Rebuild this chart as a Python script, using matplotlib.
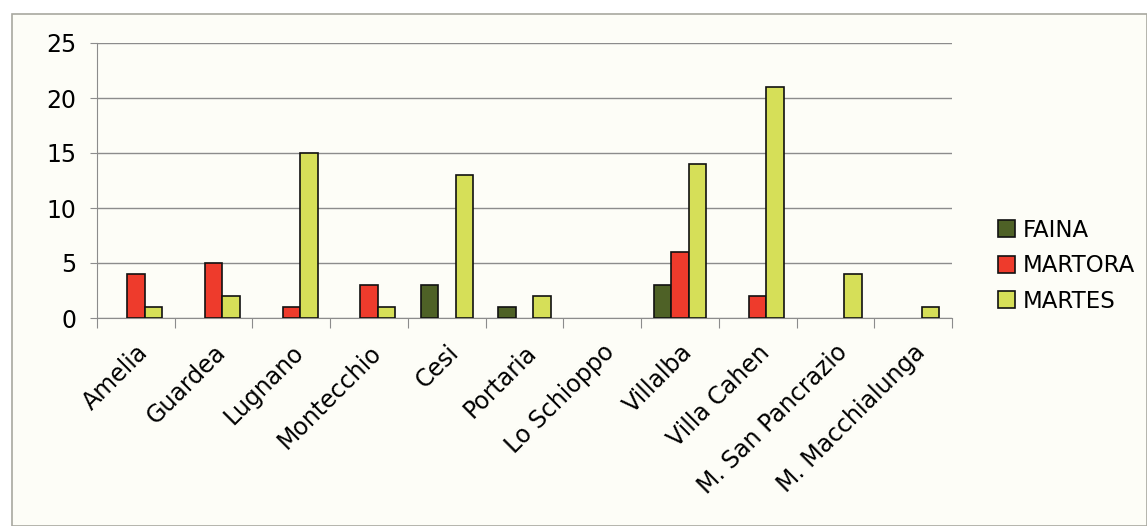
import matplotlib
matplotlib.use("Agg")
import matplotlib.pyplot as plt
import numpy as np
from matplotlib.patches import Rectangle, Patch

categories = ["Amelia", "Guardea", "Lugnano", "Montecchio", "Cesi", "Portaria",
              "Lo Schioppo", "Villalba", "Villa Cahen", "M. San Pancrazio",
              "M. Macchialunga"]
faina = [0, 0, 0, 0, 3, 1, 0, 3, 0, 0, 0]
martora = [4, 5, 1, 3, 0, 0, 0, 6, 2, 0, 0]
martes = [1, 2, 15, 1, 13, 2, 0, 14, 21, 4, 1]
series_names = ["FAINA", "MARTORA", "MARTES"]
colors = ["#4e6126", "#ee3b2c", "#d6df58"]
yticks = [0, 5, 10, 15, 20, 25]

plt.rcParams['font.family'] = ['DejaVu Sans']

fig = plt.figure(figsize=(11.47, 5.26), dpi=100)
fig.patch.set_facecolor("white")
fig.patches.append(Rectangle((12/1147, 0), 1 - 12/1147, 1 - 14/526, transform=fig.transFigure,
                             facecolor="#fdfdf7", edgecolor="#a8a8a0", linewidth=1.2, zorder=-10))

ax = fig.add_axes([97/1147, 1 - 318/526, (952-97)/1147, (318-43)/526])
ax.set_facecolor("#fdfdf7")

x = np.arange(len(categories))
w = 0.225
handles = []
for i, (vals, name, c) in enumerate(zip([faina, martora, martes], series_names, colors)):
    bars = ax.bar(x + (i - 1) * w, vals, width=w, color=c, edgecolor="#111111",
                  linewidth=1.2, zorder=3)
    for b, v in zip(bars, vals):
        if v == 0:
            b.set_visible(False)
    handles.append(Patch(facecolor=c, edgecolor="#111111", linewidth=1.2, label=name))

ax.set_xlim(-0.5, len(categories) - 0.5)
ax.set_ylim(0, 25)
ax.set_yticks(yticks)
ax.set_yticklabels([str(t) for t in yticks], fontsize=17)
ax.yaxis.grid(True, color="#8c8c8c", linewidth=1.0, zorder=0)
ax.set_axisbelow(True)

ax.set_xticks(np.arange(len(categories) + 1) - 0.5, minor=False)
ax.set_xticklabels([])
ax.tick_params(axis="x", which="major", length=7, color="#8c8c8c", direction="out")
ax.set_xticks(x, minor=True)
ax.set_xticklabels(categories, minor=True, rotation=45, ha="right",
                   rotation_mode="anchor", fontsize=17)
ax.tick_params(axis="x", which="minor", length=0, pad=16)
ax.tick_params(axis="y", length=5, color="#8c8c8c", pad=10)

for s in ["top", "right"]:
    ax.spines[s].set_visible(False)
ax.spines["left"].set_color("#8c8c8c")
ax.spines["bottom"].set_color("#8c8c8c")

leg = ax.legend(handles=handles, loc="center left", bbox_to_anchor=(1.03, 0.19), frameon=False,
                fontsize=16.5, handlelength=0.75, handleheight=0.75, handletextpad=0.3,
                labelspacing=0.55)

fig.savefig("out.png", dpi=100, facecolor=fig.get_facecolor())
